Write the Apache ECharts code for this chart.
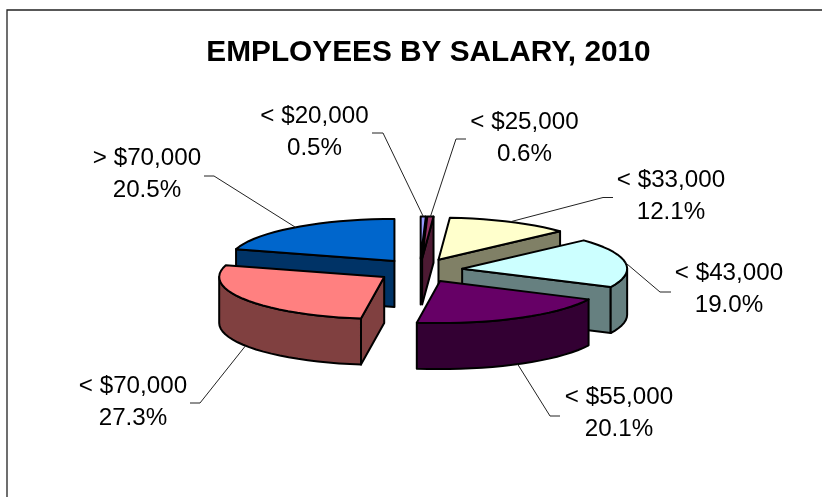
<!DOCTYPE html>
<html>
<head>
<meta charset="utf-8">
<style>html,body{margin:0;padding:0;background:#fff}#c{width:822px;height:497px}</style>
<script src="https://cdn.jsdelivr.net/npm/echarts@6/dist/echarts.min.js"></script>
</head>
<body>
<div id="c"></div>
<script>
// ---- data ----
var categories = ['< $20,000', '< $25,000', '< $33,000', '< $43,000', '< $55,000', '< $70,000', '> $70,000'];
var shares = [0.5, 0.6, 12.1, 19.0, 20.1, 27.3, 20.5];
var topColors = ['#9999FF', '#993366', '#FFFFCC', '#CCFFFF', '#660066', '#FF8080', '#0066CC'];
var wallColors = ['#4D4D80', '#4D1A33', '#808066', '#668080', '#330033', '#804040', '#003366'];

// ---- layout of the tilted pie ----
var pie = { cx: 420, cy: 270.5, rx: 165, ry: 42, depth: 46, explodeX: 42.6, explodeY: 12 };
var labelBoxes = [
  { x: 314.5, y: 132.5, elbow: [[372, 133], [383, 133]] },
  { x: 524.5, y: 138.5, elbow: [[466, 139], [456, 139]] },
  { x: 671, y: 196, elbow: [[613, 197.5], [603, 197.5]] },
  { x: 729, y: 289, elbow: [[671, 292], [660, 292]] },
  { x: 619, y: 413, elbow: [[560, 416], [550, 416]] },
  { x: 133, y: 402, elbow: [[190, 403], [200, 403]] },
  { x: 147, y: 174, elbow: [[204, 176], [214, 176]] }
];

var total = shares.reduce(function (a, b) { return a + b; }, 0);
var RAD = Math.PI / 180;
function sliceAngles(i) {
  var before = 0;
  for (var k = 0; k < i; k++) before += shares[k];
  return [before / total * 360, (before + shares[i]) / total * 360];
}
function apexOf(i) {
  var a = sliceAngles(i), m = (a[0] + a[1]) / 2 * RAD;
  return [pie.cx + pie.explodeX * Math.sin(m), pie.cy - pie.explodeY * Math.cos(m)];
}
function rim(apex, deg, drop) {
  return [apex[0] + pie.rx * Math.sin(deg * RAD), apex[1] - pie.ry * Math.cos(deg * RAD) + (drop || 0)];
}
function arc(apex, from, to, drop) {
  var n = Math.max(2, Math.ceil((to - from) / 4)), pts = [];
  for (var k = 0; k <= n; k++) pts.push(rim(apex, from + (to - from) * k / n, drop));
  return pts;
}
var paintRank = shares.map(function (_, i) { return i; })
  .sort(function (p, q) { return apexOf(p)[1] - apexOf(q)[1]; });

function poly(points, fill, z2) {
  return {
    type: 'polygon', z2: z2, silent: true,
    shape: { points: points },
    style: { fill: fill, stroke: '#000', lineWidth: 2, lineJoin: 'round' }
  };
}

function renderSlice(params, api) {
  var i = api.value(1);
  var a = sliceAngles(i), apex = apexOf(i), d = pie.depth;
  var base = (paintRank.indexOf(i) + 1) * 10;
  var kids = [];
  function cutFace(deg) {
    var e = rim(apex, deg);
    return poly([apex, e, [e[0], e[1] + d], [apex[0], apex[1] + d]], wallColors[i], base + 1);
  }
  if (Math.sin(a[0] * RAD) < 0) kids.push(cutFace(a[0]));
  if (Math.sin(a[1] * RAD) > 0) kids.push(cutFace(a[1]));
  var f0 = Math.max(a[0], 90), f1 = Math.min(a[1], 270);
  if (f1 > f0) {
    kids.push(poly(arc(apex, f0, f1, 0).concat(arc(apex, f0, f1, d).reverse()), wallColors[i], base + 2));
  }
  kids.push(poly([apex].concat(arc(apex, a[0], a[1], 0)), topColors[i], base + 3));

  // leader line and label
  var mid = (a[0] + a[1]) / 2;
  var tip = rim(apex, mid, Math.cos(mid * RAD) < 0 ? d : 0);
  var box = labelBoxes[i];
  kids.push({
    type: 'polyline', z2: 200, silent: true,
    shape: { points: box.elbow.concat([tip]) },
    style: { fill: null, stroke: '#222', lineWidth: 1 }
  });
  kids.push({
    type: 'text', z2: 210, silent: true,
    style: {
      x: box.x, y: box.y, text: categories[i] + '\n' + api.value(0).toFixed(1) + '%',
      align: 'center', verticalAlign: 'middle',
      font: '24.2px "Liberation Sans", Arial, sans-serif', lineHeight: 32, fill: '#000'
    }
  });
  return { type: 'group', children: kids };
}

var chart = echarts.init(document.getElementById('c'), null, { renderer: 'canvas' });
chart.setOption({
  animation: false,
  backgroundColor: '#fff',
  title: {
    text: 'EMPLOYEES BY SALARY, 2010',
    left: 423.5, top: 33, textAlign: 'center',
    textStyle: { fontFamily: '"Liberation Sans", Arial, sans-serif', fontWeight: 'bold', fontSize: 29.8, color: '#000' }
  },
  graphic: [{
    type: 'rect', silent: true, z: -1,
    shape: { x: 7, y: 10, width: 830, height: 500 },
    style: { fill: 'none', stroke: '#222', lineWidth: 1.3 }
  }],
  series: [{
    type: 'custom',
    coordinateSystem: 'none',
    silent: true,
    clip: false,
    data: shares.map(function (v, i) { return [v, i]; }),
    renderItem: renderSlice
  }]
});
</script>
</body>
</html>
